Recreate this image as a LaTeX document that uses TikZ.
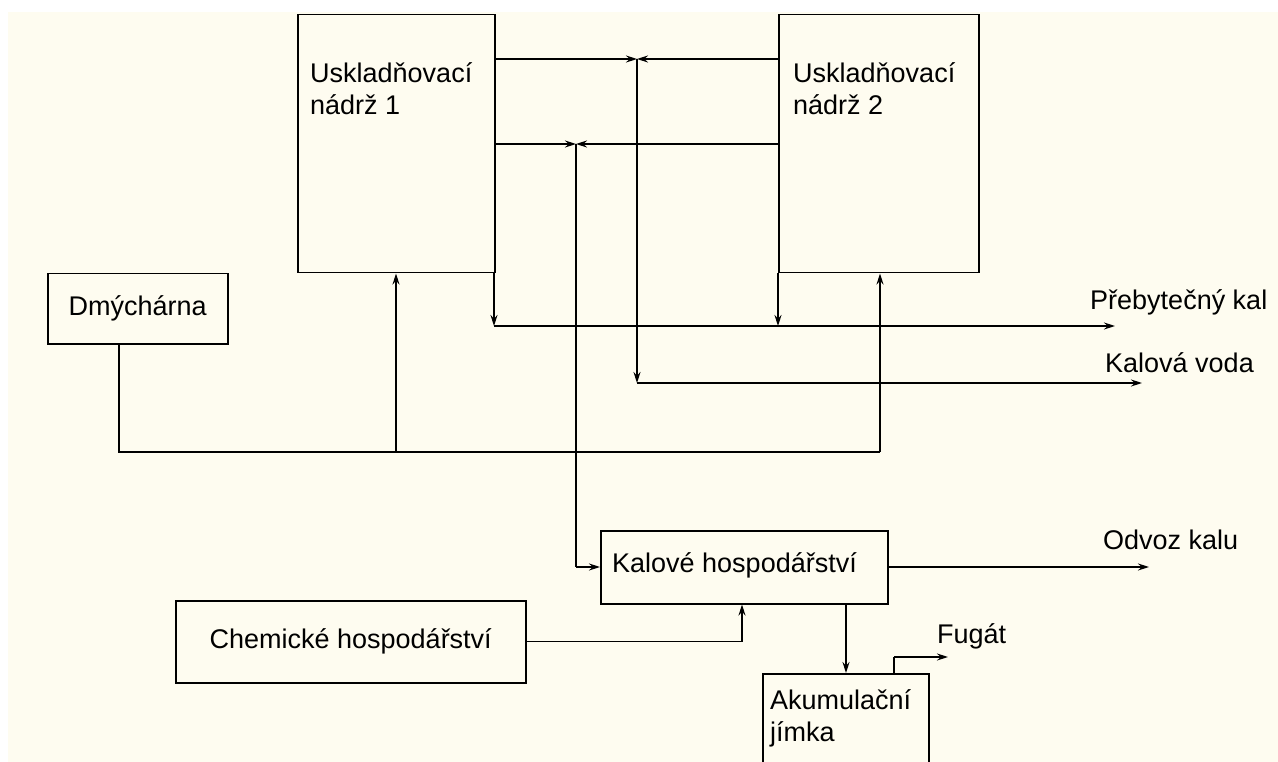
\documentclass[tikz,border=0pt]{standalone}
\usepackage{fontspec}
\setmainfont{Liberation Sans}
\usetikzlibrary{arrows.meta}
\definecolor{cream}{RGB}{254,252,240}
\begin{document}
\begin{tikzpicture}[x=1pt,y=-1pt,
  box/.style={draw,line width=1.5pt,inner sep=0pt,anchor=north west},
  lbl/.style={inner sep=0pt,font=\fontsize{27}{32}\selectfont},
  ln/.style={line width=1.4pt},
  arr/.style={ln,-{Stealth[length=11pt,width=7pt]}}]
\useasboundingbox (0,0) rectangle (1278,762);
\fill[white] (0,0) rectangle (1278,762);
\fill[cream] (8,12) rectangle (1278,762);
% boxes
\node[box,minimum width=197pt,minimum height=258pt] (U1) at (297,14) {};
\node[box,minimum width=200pt,minimum height=258pt] (U2) at (778,14) {};
\node[box,minimum width=180pt,minimum height=70pt] (D) at (47,273) {};
\node[box,minimum width=287pt,minimum height=73pt] (KH) at (600,530) {};
\node[box,minimum width=350pt,minimum height=82pt] (CH) at (175,600) {};
\node[box,minimum width=166pt,minimum height=100pt] (AK) at (762,673) {};
% labels
\node[lbl,anchor=north west,align=left] (tU1) at (310,62) {Uskladňovací\\nádrž 1};
\node[lbl,anchor=north west,align=left] (tU2) at (793,62) {Uskladňovací\\nádrž 2};
\node[lbl] (tD) at (D.center) {Dmýchárna};
\node[lbl] (tCH) at (CH.center) {Chemické hospodářství};
\node[lbl,anchor=west] (tKH) at (612,565) {Kalové hospodářství};
\node[lbl,anchor=north west,align=left] (tAK) at (770,689) {Akumulační\\jímka};
\node[lbl,anchor=west] (tPK) at (1090,302) {Přebytečný kal};
\node[lbl,anchor=west] (tKV) at (1105,363) {Kalová voda};
\node[lbl,anchor=west] (tOK) at (1103,540) {Odvoz kalu};
\node[lbl,anchor=west] (tF) at (937,636) {Fugát};
% coordinates
\coordinate (j1) at (637,59);
\coordinate (j2) at (576,144);
\coordinate (k1) at (494,326);
\coordinate (k2) at (778,326);
\coordinate (kend) at (1115,326);
\coordinate (v1) at (637,383);
\coordinate (vend) at (1142,383);
\coordinate (m1) at (576,567);
\coordinate (d1) at (119,343);
\coordinate (d2) at (119,452);
\coordinate (d3) at (396,452);
\coordinate (d4) at (880,452);
\coordinate (o1) at (887,567);
\coordinate (oend) at (1149,567);
\coordinate (c1) at (742,641);
\coordinate (a1) at (846,603);
\coordinate (f1) at (894,673);
\coordinate (f2) at (894,657);
\coordinate (fend) at (948,657);
% connectors
\draw[arr] (U1.east |- j1) -- (j1);
\draw[arr] (U2.west |- j1) -- (j1);
\draw[arr] (U1.east |- j2) -- (j2);
\draw[arr] (U2.west |- j2) -- (j2);
\draw[arr] (j1) -- (v1);
\draw[arr] (v1) -- (vend);
\draw[ln] (j2) -- (m1);
\draw[arr] (m1) -- (KH.west |- m1);
\draw[arr] (k1 |- U1.south) -- (k1);
\draw[arr] (k2 |- U2.south) -- (k2);
\draw[arr] (k1) -- (kend);
\draw[ln] (D.south -| d1) -- (d2) -- (d4);
\draw[arr] (d4) -- (U2.south -| d4);
\draw[arr] (d3) -- (U1.south -| d3);
\draw[arr] (KH.east |- o1) -- (oend);
\draw[ln] (CH.east) -- (CH.east -| c1);
\draw[arr] (CH.east -| c1) -- (KH.south -| c1);
\draw[arr] (KH.south -| a1) -- (AK.north -| a1);
\draw[ln] (AK.north -| f1) -- (f2);
\draw[arr] (f2) -- (fend);
\end{tikzpicture}
\end{document}
